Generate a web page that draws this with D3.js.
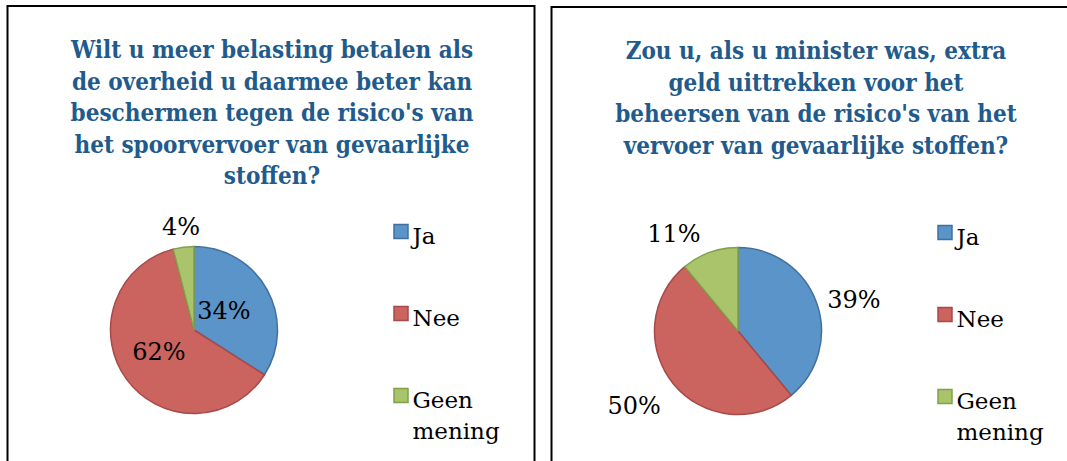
<!DOCTYPE html>
<html>
<head>
<meta charset="utf-8">
<script src="https://cdn.jsdelivr.net/npm/d3@7/dist/d3.min.js"></script>
<style>
  html, body { margin: 0; padding: 0; background: #ffffff; }
  svg { display: block; }
</style>
</head>
<body>
<svg id="chart" width="1067" height="461"></svg>
<script>
// Survey answers shared by both pies
const categories = ["Ja", "Nee", "Geen mening"];
const legendLines = [["Ja"], ["Nee"], ["Geen", "mening"]];

// Question 1: extra tax for safer rail transport of hazardous goods
const titleLeft = [
  "Wilt u meer belasting betalen als",
  "de overheid u daarmee beter kan",
  "beschermen tegen de risico's van",
  "het spoorvervoer van gevaarlijke",
  "stoffen?"
];
const valuesLeft = [34, 62, 4];

// Question 2: extra budget as a minister
const titleRight = [
  "Zou u, als u minister was, extra",
  "geld uittrekken voor het",
  "beheersen van de risico's van het",
  "vervoer van gevaarlijke stoffen?"
];
const valuesRight = [39, 50, 11];

// Slice styling
const fills   = ["#5B94C9", "#CB635F", "#A9C46B"];
const strokes = ["#41709F", "#A8494A", "#82A04A"];

// Data-label placement per slice: radius as a fraction of the pie radius,
// and a small angular nudge (degrees) from the slice's mid angle
const labelPlaceLeft  = [{ r: 0.43, da: -5 }, { r: 0.49, da: 5 }, { r: 1.25, da: 0 }];
const labelPlaceRight = [{ r: 1.44, da: 4.5 }, { r: 1.53, da: 4 }, { r: 1.40, da: -13.5 }];

const svg = d3.select("#chart");

const panelW = 527, panelH = 480;
const titleColor = "#215A8C";
const serif = "'DejaVu Serif', serif";

function drawPanel(x0, y0, title, values, labelPlace) {
  const g = svg.append("g").attr("transform", `translate(${x0},${y0})`);

  g.append("rect")
    .attr("x", 0).attr("y", 0)
    .attr("width", panelW).attr("height", panelH)
    .attr("fill", "#ffffff")
    .attr("stroke", "#000000")
    .attr("stroke-width", 2);

  // Title
  const t = g.append("text")
    .attr("x", panelW / 2 + 1)
    .attr("y", 52)
    .attr("text-anchor", "middle")
    .attr("fill", titleColor)
    .style("font-family", "'DejaVu Serif Condensed', 'DejaVu Serif', serif")
    .style("font-stretch", "condensed")
    .style("font-weight", "bold")
    .style("font-size", "24px");
  t.selectAll("tspan").data(title).join("tspan")
    .attr("x", panelW / 2 + 1)
    .attr("dy", (d, i) => i === 0 ? 0 : 31.5)
    .text(d => d);

  // Pie
  const R = 83.5;
  const cx = 186.5, cy = 324;
  const pie = d3.pie().sort(null).value(d => d).startAngle(0).endAngle(2 * Math.PI);
  const arcs = pie(values);
  const arc = d3.arc().innerRadius(0).outerRadius(R);

  const pg = g.append("g").attr("transform", `translate(${cx},${cy})`);
  pg.selectAll("path.slice").data(arcs).join("path")
    .attr("class", "slice")
    .attr("d", arc)
    .attr("fill", (d, i) => fills[i])
    .attr("stroke", (d, i) => strokes[i])
    .attr("stroke-width", 1.5)
    .attr("stroke-linejoin", "round");

  // Percentage labels
  pg.selectAll("text.lbl").data(arcs).join("text")
    .attr("class", "lbl")
    .attr("transform", (d, i) => {
      const p = labelPlace[i];
      const a = (d.startAngle + d.endAngle) / 2 + p.da * Math.PI / 180;
      const r = p.r * R;
      return `translate(${r * Math.sin(a)},${-r * Math.cos(a)})`;
    })
    .attr("text-anchor", "middle")
    .attr("dy", "0.37em")
    .attr("fill", "#000000")
    .style("font-family", serif)
    .style("font-size", "24px")
    .text(d => d.data + "%");

  // Legend
  const legendY = d3.scalePoint().domain(categories).range([238, 402]);
  const lg = g.append("g");
  categories.forEach((c, i) => {
    const by = legendY(c);
    lg.append("rect")
      .attr("x", 386.5).attr("y", by - 19.5)
      .attr("width", 14).attr("height", 14)
      .attr("fill", fills[i])
      .attr("stroke", strokes[i])
      .attr("stroke-width", 1.5);
    const tx = lg.append("text")
      .attr("x", 405)
      .attr("y", by)
      .attr("fill", "#000000")
      .style("font-family", serif)
      .style("font-size", "23px");
    tx.selectAll("tspan").data(legendLines[i]).join("tspan")
      .attr("x", 405)
      .attr("dy", (d, k) => k === 0 ? 0 : 31)
      .text(d => d);
  });
}

drawPanel(7.5, 6, titleLeft, valuesLeft, labelPlaceLeft);
drawPanel(551.5, 7, titleRight, valuesRight, labelPlaceRight);
</script>
</body>
</html>
